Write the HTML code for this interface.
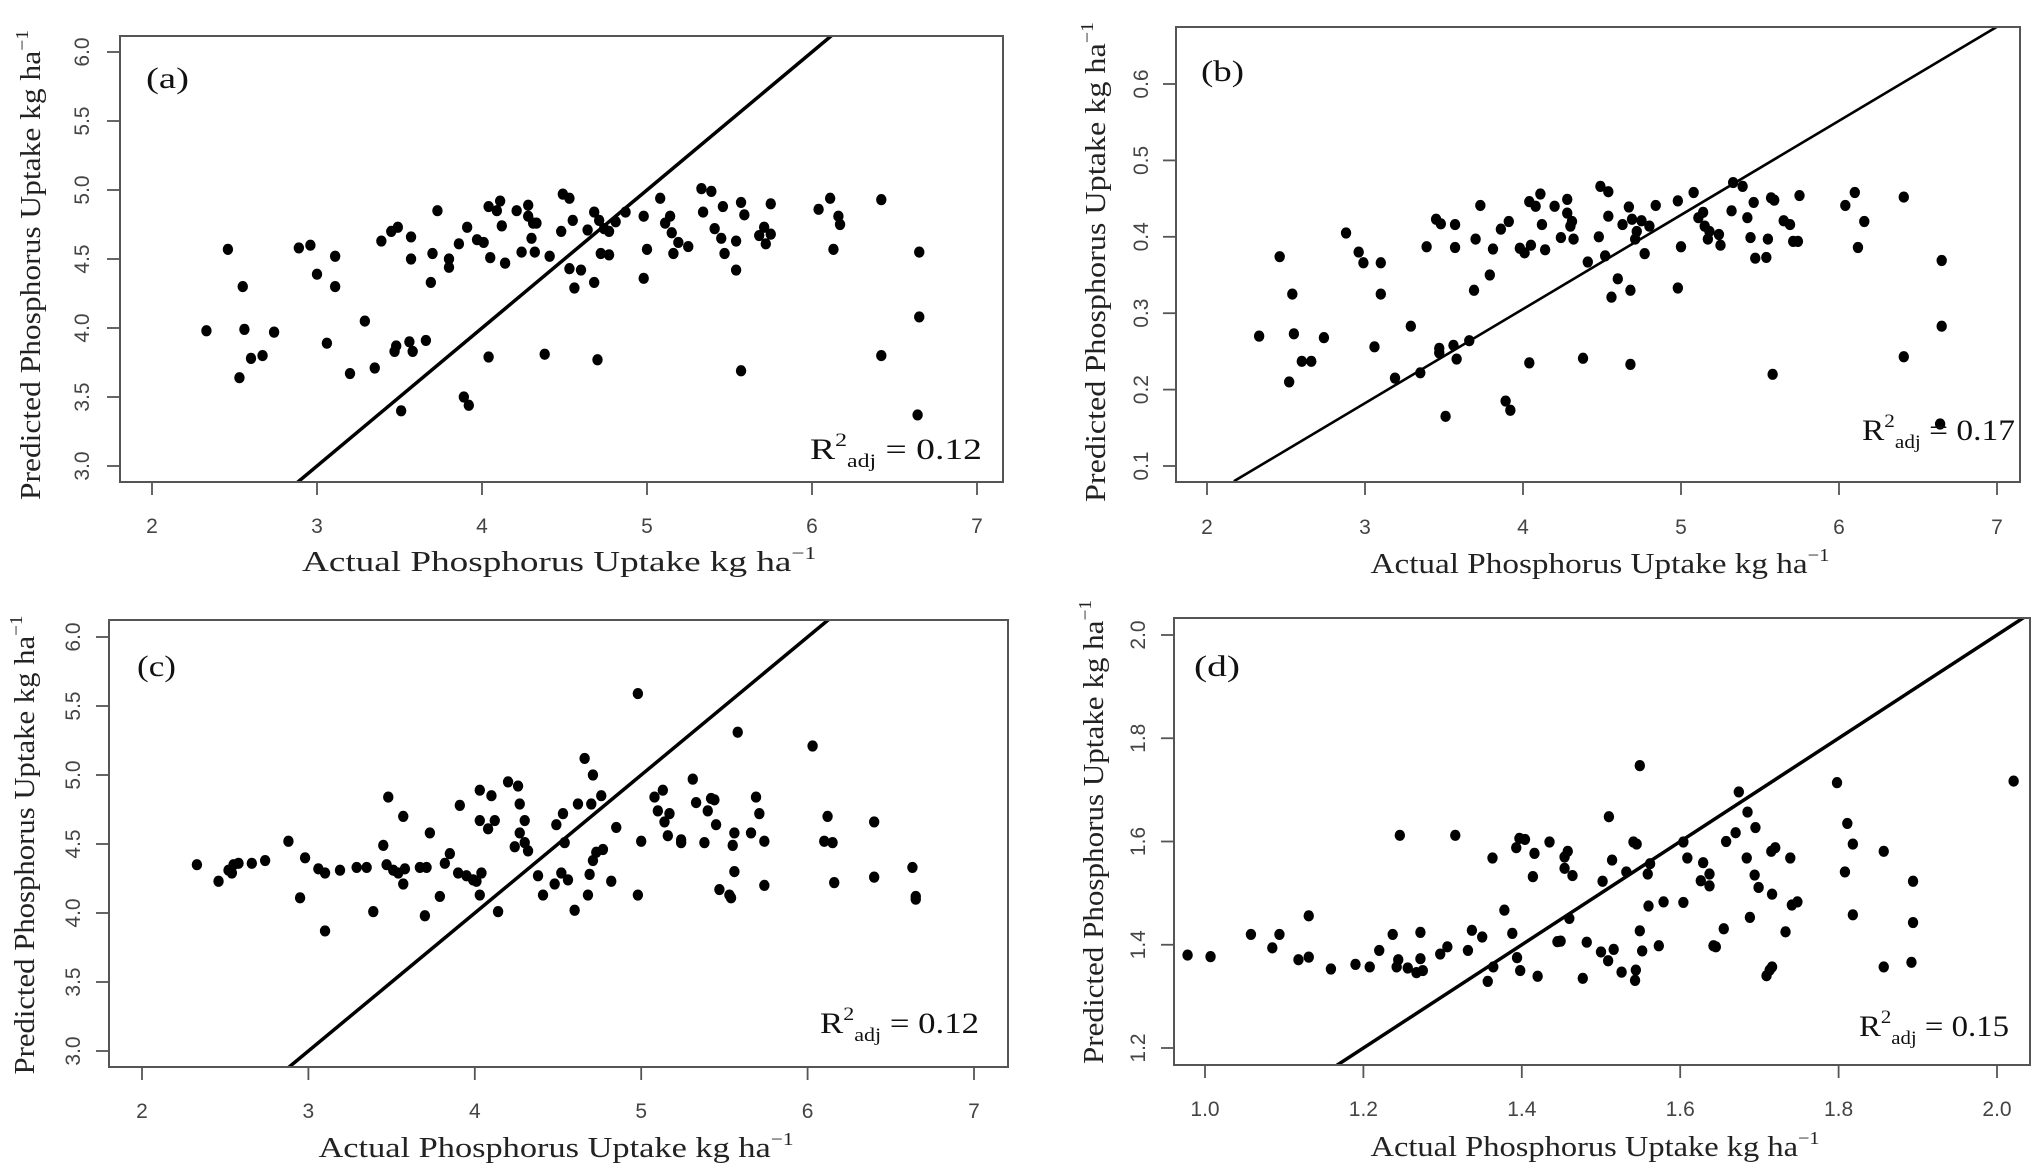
<!DOCTYPE html>
<html><head><meta charset="utf-8">
<style>
html,body{margin:0;padding:0;background:#fff;}
svg{display:block;}
.tick{font-family:"Liberation Sans",sans-serif;font-size:21px;fill:#444;}
.title{font-family:"Liberation Serif",serif;font-size:29px;fill:#222;}
.plab{font-family:"Liberation Serif",serif;font-size:30px;fill:#111;}
</style></head>
<body>
<svg id="fig" width="2039" height="1170" viewBox="0 0 2039 1170" xmlns="http://www.w3.org/2000/svg"></svg>
<script>
const aX=[2.33,2.46,2.55,2.56,2.53,2.60,2.67,2.74,2.89,2.96,3.00,3.11,3.11,3.06,3.20,3.29,3.35,3.39,3.45,3.49,3.47,3.48,3.51,3.56,3.58,3.57,3.57,3.66,3.69,3.70,3.73,3.80,3.80,3.86,3.91,3.89,3.92,3.97,4.01,4.04,4.05,4.04,4.09,4.11,4.12,4.14,4.21,4.24,4.28,4.28,4.30,4.31,4.32,4.33,4.41,4.38,4.49,4.53,4.48,4.55,4.53,4.56,4.60,4.64,4.68,4.68,4.70,4.71,4.72,4.74,4.77,4.77,4.81,4.87,4.98,5.00,4.98,5.08,5.11,5.14,5.15,5.16,5.19,5.25,5.33,5.39,5.34,5.46,5.41,5.45,5.47,5.54,5.54,5.57,5.59,5.57,5.68,5.71,5.72,5.75,5.75,6.04,6.11,6.13,6.16,6.17,6.42,6.42,6.65,6.65,6.64];
const aY=[3.98,4.57,4.30,3.99,3.64,3.78,3.80,3.97,4.58,4.60,4.39,4.52,4.30,3.89,3.67,4.05,3.71,4.63,4.70,4.73,3.83,3.87,3.40,3.90,3.83,4.66,4.50,3.91,4.33,4.54,4.85,4.44,4.50,4.61,4.73,3.50,3.44,4.64,4.62,4.88,4.51,3.79,4.85,4.92,4.74,4.47,4.85,4.55,4.89,4.81,4.65,4.76,4.55,4.76,4.52,3.81,4.97,4.94,4.70,4.78,4.43,4.29,4.42,4.71,4.84,4.33,3.77,4.78,4.54,4.72,4.70,4.53,4.77,4.84,4.81,4.57,4.36,4.94,4.76,4.81,4.69,4.54,4.62,4.59,5.01,4.99,4.84,4.88,4.72,4.65,4.54,4.63,4.42,4.91,4.82,3.69,4.67,4.73,4.61,4.90,4.68,4.86,4.94,4.57,4.81,4.75,4.93,3.80,4.55,4.08,3.37];
const bX=[2.33,2.46,2.54,2.55,2.52,2.60,2.66,2.74,2.88,2.96,2.99,3.10,3.10,3.06,3.19,3.29,3.35,3.39,3.45,3.48,3.47,3.47,3.51,3.56,3.58,3.57,3.57,3.66,3.69,3.70,3.73,3.79,3.81,3.86,3.91,3.89,3.92,3.98,4.01,4.04,4.05,4.04,4.08,4.11,4.12,4.14,4.20,4.24,4.28,4.28,4.30,4.31,4.32,4.38,4.41,4.49,4.54,4.48,4.54,4.52,4.56,4.60,4.63,4.67,4.68,4.68,4.69,4.71,4.72,4.75,4.77,4.80,4.84,4.98,5.00,4.98,5.08,5.11,5.14,5.15,5.17,5.18,5.24,5.25,5.33,5.39,5.32,5.46,5.42,5.44,5.47,5.54,5.55,5.57,5.59,5.58,5.65,5.69,5.71,5.74,5.75,6.04,6.10,6.12,6.16,6.41,6.41,6.65,6.65,6.64];
const bY=[0.270,0.374,0.325,0.273,0.210,0.237,0.237,0.268,0.405,0.380,0.366,0.366,0.325,0.256,0.215,0.283,0.222,0.387,0.423,0.417,0.248,0.254,0.165,0.258,0.240,0.416,0.386,0.264,0.330,0.397,0.441,0.350,0.384,0.410,0.420,0.185,0.173,0.385,0.379,0.446,0.389,0.235,0.440,0.456,0.416,0.383,0.440,0.399,0.449,0.431,0.414,0.420,0.397,0.241,0.367,0.466,0.459,0.400,0.427,0.375,0.321,0.345,0.416,0.439,0.330,0.233,0.423,0.397,0.407,0.421,0.378,0.414,0.441,0.447,0.387,0.333,0.458,0.425,0.432,0.414,0.397,0.407,0.403,0.389,0.471,0.466,0.434,0.445,0.425,0.399,0.372,0.373,0.397,0.451,0.448,0.220,0.421,0.416,0.394,0.394,0.454,0.441,0.458,0.386,0.420,0.452,0.243,0.369,0.283,0.155];
const cX=[2.33,2.46,2.52,2.54,2.55,2.58,2.66,2.74,2.88,2.98,2.95,3.06,3.10,3.10,3.19,3.29,3.35,3.39,3.45,3.48,3.47,3.51,3.54,3.57,3.57,3.58,3.67,3.70,3.71,3.73,3.79,3.82,3.85,3.91,3.90,3.95,3.99,4.01,4.03,4.03,4.04,4.03,4.08,4.10,4.12,4.14,4.20,4.24,4.26,4.27,4.27,4.30,4.30,4.32,4.38,4.41,4.48,4.49,4.52,4.53,4.54,4.56,4.60,4.62,4.66,4.68,4.69,4.70,4.71,4.71,4.73,4.76,4.77,4.82,4.85,4.98,4.98,5.00,5.08,5.10,5.13,5.14,5.17,5.16,5.24,5.24,5.31,5.33,5.38,5.40,5.42,5.44,5.45,5.47,5.53,5.54,5.55,5.56,5.56,5.58,5.66,5.69,5.71,5.74,5.74,6.03,6.10,6.12,6.15,6.16,6.40,6.40,6.63,6.65,6.65];
const cY=[4.35,4.23,4.31,4.29,4.35,4.36,4.36,4.38,4.52,4.40,4.11,4.32,4.29,3.87,4.31,4.33,4.33,4.01,4.49,4.84,4.35,4.31,4.29,4.21,4.70,4.32,4.33,3.98,4.33,4.58,4.12,4.36,4.43,4.78,4.29,4.27,4.24,4.23,4.89,4.67,4.29,4.13,4.61,4.85,4.67,4.01,4.95,4.48,4.92,4.79,4.58,4.51,4.67,4.45,4.27,4.13,4.21,4.64,4.29,4.72,4.51,4.24,4.02,4.79,5.12,4.13,4.28,4.79,5.00,4.38,4.44,4.85,4.46,4.23,4.62,5.59,4.13,4.52,4.84,4.74,4.89,4.66,4.72,4.56,4.51,4.53,4.97,4.80,4.51,4.74,4.83,4.82,4.64,4.17,4.13,4.11,4.49,4.58,4.30,5.31,4.58,4.84,4.72,4.52,4.20,5.21,4.52,4.70,4.51,4.22,4.66,4.26,4.33,4.12,4.10];
const dX=[0.978,1.007,1.058,1.085,1.094,1.118,1.131,1.131,1.159,1.190,1.208,1.220,1.237,1.242,1.246,1.244,1.256,1.267,1.272,1.272,1.275,1.297,1.306,1.316,1.332,1.337,1.350,1.357,1.363,1.364,1.378,1.388,1.393,1.397,1.394,1.398,1.404,1.414,1.416,1.420,1.435,1.445,1.449,1.454,1.454,1.458,1.460,1.464,1.477,1.482,1.500,1.502,1.509,1.510,1.514,1.516,1.526,1.532,1.541,1.545,1.543,1.544,1.549,1.549,1.552,1.559,1.560,1.562,1.573,1.579,1.604,1.604,1.609,1.629,1.626,1.637,1.637,1.642,1.645,1.655,1.658,1.670,1.674,1.685,1.684,1.688,1.694,1.695,1.699,1.709,1.713,1.716,1.715,1.720,1.716,1.733,1.739,1.741,1.748,1.798,1.808,1.811,1.818,1.818,1.857,1.857,1.894,1.894,1.892,2.021];
const dY=[1.380,1.377,1.420,1.394,1.420,1.371,1.376,1.456,1.353,1.362,1.357,1.389,1.420,1.357,1.612,1.371,1.355,1.346,1.373,1.424,1.350,1.382,1.396,1.612,1.389,1.428,1.415,1.329,1.568,1.357,1.467,1.422,1.588,1.606,1.375,1.350,1.604,1.532,1.577,1.339,1.599,1.406,1.407,1.570,1.548,1.581,1.451,1.534,1.335,1.405,1.386,1.523,1.369,1.648,1.564,1.391,1.347,1.541,1.599,1.595,1.331,1.351,1.747,1.427,1.388,1.537,1.475,1.557,1.398,1.483,1.599,1.482,1.568,1.559,1.524,1.537,1.514,1.398,1.396,1.431,1.600,1.617,1.696,1.657,1.568,1.453,1.535,1.627,1.511,1.340,1.351,1.357,1.581,1.588,1.498,1.425,1.568,1.477,1.483,1.714,1.541,1.635,1.595,1.458,1.581,1.357,1.523,1.443,1.366,1.717];
const abcXTicks=[2,3,4,5,6,7];
const acYTicks=[3.0,3.5,4.0,4.5,5.0,5.5,6.0];
const bYTicks=[0.1,0.2,0.3,0.4,0.5,0.6];
const dXTicks=[1.0,1.2,1.4,1.6,1.8,2.0];
const dYTicks=[1.2,1.4,1.6,1.8,2.0];
const bLineX=[2.17,7.0];
const bLineY=[0.08,0.675];
const r2Labels=["0.12","0.17","0.12","0.15"];

const NS="http://www.w3.org/2000/svg";
const svg=document.getElementById('fig');
function mk(tag,attrs,parent){const e=document.createElementNS(NS,tag);for(const k in attrs)e.setAttribute(k,attrs[k]);(parent||svg).appendChild(e);return e;}

function panel(p){
  const g=mk('g',{});
  
  
  const sx=v=>p.x0px+(v-p.x0)*(p.x1px-p.x0px)/(p.x1-p.x0);
  const sy=v=>p.y0px+(v-p.y0)*(p.y1px-p.y0px)/(p.y1-p.y0);
  const clip=mk('clipPath',{id:'clip'+p.id},g);
  mk('rect',{x:p.L,y:p.T,width:p.R-p.L,height:p.B-p.T},clip);
  const pg=mk('g',{},g);
  
  
  p.xs.forEach((v,i)=>{
    const c=mk('ellipse',{cx:sx(v),cy:sy(p.ys[i]),rx:5.2,ry:5.6,fill:'#000'},pg);
    
    
  });
  const ln=mk('line',{x1:sx(p.lx[0]),y1:sy(p.ly[0]),x2:sx(p.lx[1]),y2:sy(p.ly[1]),stroke:'#000','stroke-width':p.lw,'clip-path':'url(#clip'+p.id+')'},g);
  
  
  const bx=mk('rect',{x:p.L,y:p.T,width:p.R-p.L,height:p.B-p.T,fill:'none',stroke:'#555','stroke-width':2},g);
  
  
  const xa=mk('g',{},g);
  
  
  p.xt.forEach(v=>{
    mk('line',{x1:sx(v),x2:sx(v),y1:p.B,y2:p.B+13,stroke:'#555','stroke-width':1.8},xa);
    const t=mk('text',{x:sx(v),y:p.xtY,'text-anchor':'middle','class':'tick'},xa);
    t.textContent=p.xfmt(v);
    
    
  });
  const ya=mk('g',{},g);
  
  
  p.yt.forEach(v=>{
    mk('line',{x1:p.L,x2:p.L-13,y1:sy(v),y2:sy(v),stroke:'#555','stroke-width':1.8},ya);
    const t=mk('text',{x:p.ytX,y:sy(v),'text-anchor':'middle','class':'tick',transform:'rotate(-90 '+p.ytX+' '+sy(v)+')'},ya);
    t.textContent=p.yfmt(v);
    
    
  });
  const xt=mk('text',{x:p.xTitleX,y:p.xTitleY,'text-anchor':'middle','class':'title',textLength:p.xTitleW,lengthAdjust:'spacingAndGlyphs'},g);
  xt.innerHTML='Actual Phosphorus Uptake kg ha<tspan font-size="18" dy="-12">−1</tspan>';
  
  
  const yt=mk('text',{x:p.yTitleX,y:p.yTitleC,'text-anchor':'middle','class':'title',textLength:p.yTitleW,lengthAdjust:'spacingAndGlyphs',transform:'rotate(-90 '+p.yTitleX+' '+p.yTitleC+')'},g);
  yt.innerHTML='Predicted Phosphorus Uptake kg ha<tspan font-size="18" dy="-12">−1</tspan>';
  
  
  const pl=mk('text',{x:p.plX,y:p.plY,'class':'plab',textLength:p.plW,lengthAdjust:'spacingAndGlyphs'},g);
  pl.textContent='('+p.id+')';
  
  
  const r2=mk('text',{x:p.r2X,y:p.r2Y,'class':'plab',textLength:p.r2W,lengthAdjust:'spacingAndGlyphs'},g);
  r2.innerHTML='R<tspan font-size="19" dy="-13">2</tspan><tspan font-size="19" dy="21">adj</tspan><tspan dy="-8"> = '+r2Labels[p.idx]+'</tspan>';
  
  
}
const f0=v=>String(v), f1=v=>v.toFixed(1);
panel({id:'a',idx:0,L:120,R:1003,T:36,B:482,x0:2,x1:7,x0px:152,x1px:977,y0:3,y1:6,y0px:466,y1px:52,
  xs:aX,ys:aY,lx:[2.5,6.5],ly:[2.5,6.5],lw:3.5,xt:abcXTicks,yt:acYTicks,xfmt:f0,yfmt:f1,
  xtY:533,ytX:89,xTitleX:559,xTitleY:571,xTitleW:514,yTitleX:40,yTitleC:265,yTitleW:470,
  plX:146,plY:88,plW:43,r2X:810,r2Y:459,r2W:172});
panel({id:'b',idx:1,L:1176,R:2020,T:27,B:482,x0:2,x1:7,x0px:1207,x1px:1997,y0:0.1,y1:0.6,y0px:466,y1px:84,
  xs:bX,ys:bY,lx:bLineX,ly:bLineY,lw:2.6,xt:abcXTicks,yt:bYTicks,xfmt:f0,yfmt:f1,
  xtY:534,ytX:1148,xTitleX:1600,xTitleY:573,xTitleW:459,yTitleX:1105,yTitleC:262,yTitleW:480,
  plX:1201,plY:81,plW:43,r2X:1862,r2Y:440,r2W:153});
panel({id:'c',idx:2,L:109,R:1008,T:620,B:1067,x0:2,x1:7,x0px:142,x1px:974,y0:3,y1:6,y0px:1051,y1px:637,
  xs:cX,ys:cY,lx:[2.5,6.5],ly:[2.5,6.5],lw:3.5,xt:abcXTicks,yt:acYTicks,xfmt:f0,yfmt:f1,
  xtY:1118,ytX:80,xTitleX:556,xTitleY:1157,xTitleW:475,yTitleX:34,yTitleC:845,yTitleW:459,
  plX:137,plY:676,plW:39,r2X:820,r2Y:1033,r2W:159});
panel({id:'d',idx:3,L:1174,R:2030,T:618,B:1065,x0:1,x1:2,x0px:1205,x1px:1997,y0:1.2,y1:2.0,y0px:1048,y1px:635,
  xs:dX,ys:dY,lx:[1.1,2.1],ly:[1.1,2.1],lw:3.5,xt:dXTicks,yt:dYTicks,xfmt:f1,yfmt:f1,
  xtY:1116,ytX:1145,xTitleX:1595,xTitleY:1156,xTitleW:449,yTitleX:1103,yTitleC:832,yTitleW:464,
  plX:1194,plY:676,plW:46,r2X:1859,r2Y:1036,r2W:150});
</script>
</body></html>
